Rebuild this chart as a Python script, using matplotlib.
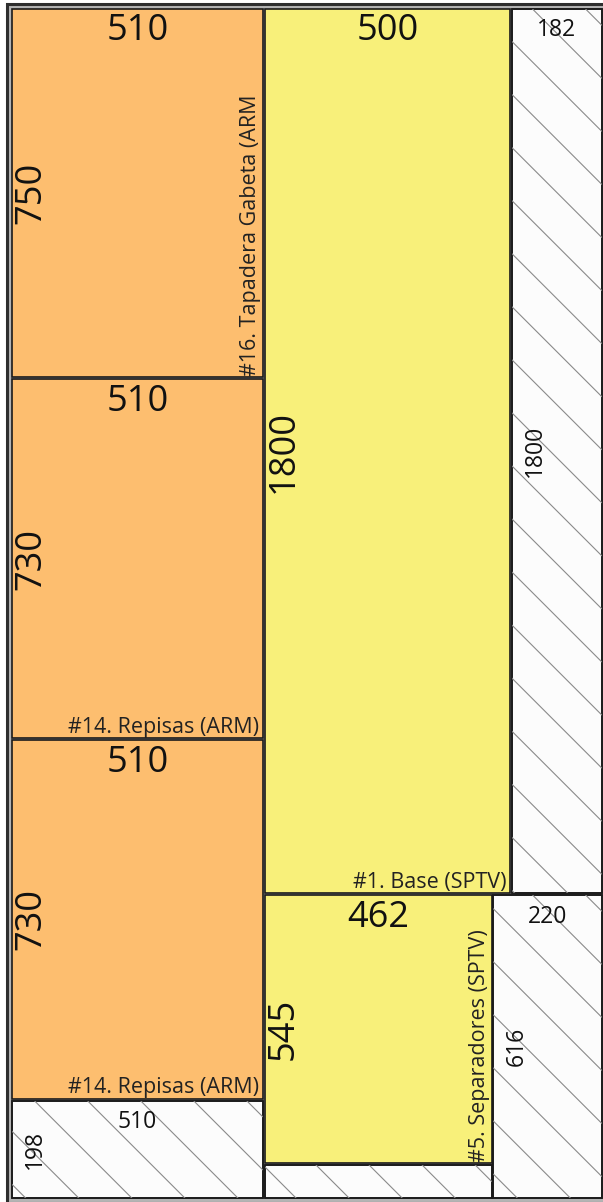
import numpy as np
import matplotlib
matplotlib.use("Agg")
import matplotlib.pyplot as plt
from matplotlib.patches import Rectangle

plt.rcParams['font.family'] = ['Open Sans', 'DejaVu Sans']

# sheet and layout, in mm
sheet_w, sheet_h = 1220, 2440

piece_x = [10, 10, 10, 524, 524]
piece_y = [10, 764, 1498, 10, 1814]
piece_w = [510, 510, 510, 500, 462]
piece_h = [750, 730, 730, 1800, 545]
piece_names = ["#16. Tapadera Gabeta (ARM", "#14. Repisas (ARM)",
               "#14. Repisas (ARM)", "#1. Base (SPTV)", "#5. Separadores (SPTV)"]
piece_colors = ["#fdbe6f", "#fdbe6f", "#fdbe6f", "#f8f07a", "#f8f07a"]
name_vertical = [True, False, False, False, True]

waste_x = [10, 1028, 524, 990]
waste_y = [2232, 10, 2363, 1814]
waste_w = [510, 182, 462, 220]
waste_h = [198, 1800, 67, 616]
waste_labelled = [True, True, False, True]
waste_phase = [91.6, 87.5, 101.9, 12.2]

# px = x0 + s * mm
s = 0.4913
x0, y0 = 7.1, 4.1
W, H = 603, 1202

fig = plt.figure(figsize=(W / 100, H / 100), dpi=100)
ax = fig.add_axes([0, 0, 1, 1])
ax.set_xlim(-x0 / s, (W - x0) / s)
ax.set_ylim((H - y0) / s, -y0 / s)
ax.axis('off')

ax.add_patch(Rectangle((0, 0), sheet_w, sheet_h, facecolor='#b4b4b4',
                       edgecolor='#2e2e2e', lw=2.2))


def hatch(patch, x, y, w, h, phase, step=108):
    cmin, cmax = x - (y + h), (x + w) - y
    k0 = np.floor((cmin - phase) / step)
    for c in np.arange(phase + k0 * step, cmax + step, step):
        ln, = ax.plot([x, x + w], [x - c, x + w - c], color='#8a8a8a', lw=0.8)
        ln.set_clip_path(patch)


for i in range(len(piece_x)):
    x, y, w, h = piece_x[i], piece_y[i], piece_w[i], piece_h[i]
    ax.add_patch(Rectangle((x, y), w, h, facecolor=piece_colors[i],
                           edgecolor='#1a1a1a', lw=1.2))
    ax.text(x + w / 2, y + 64, str(w), fontsize=26, ha='center',
            va='baseline', color='#111111')
    ax.text(x + 57, y + h / 2, str(h), fontsize=26, rotation=90,
            rotation_mode='anchor', ha='center', va='baseline', color='#111111')
    if name_vertical[i]:
        ax.text(x + w - 3, y + h - 3, piece_names[i], fontsize=15.5,
                rotation=90, rotation_mode='anchor', ha='left', va='bottom',
                color='#222222')
    else:
        ax.text(x + w - 8, y + h - 1, piece_names[i], fontsize=15.5,
                ha='right', va='bottom', color='#222222')

for i in range(len(waste_x)):
    x, y, w, h = waste_x[i], waste_y[i], waste_w[i], waste_h[i]
    p = Rectangle((x, y), w, h, facecolor='#fcfcfc', edgecolor='#1a1a1a', lw=1.2)
    ax.add_patch(p)
    hatch(p, x, y, w, h, waste_phase[i])
    ax.add_patch(Rectangle((x, y), w, h, facecolor='none',
                           edgecolor='#1a1a1a', lw=1.2))
    if waste_labelled[i]:
        ax.text(x + w / 2, y + 55.5, str(w), fontsize=16.5, ha='center',
                va='baseline', color='#111111')
        ax.text(x + 59, y + h / 2, str(h), fontsize=16.5, rotation=90,
                rotation_mode='anchor', ha='center', va='baseline',
                color='#111111')

fig.savefig('out.png', dpi=100)
